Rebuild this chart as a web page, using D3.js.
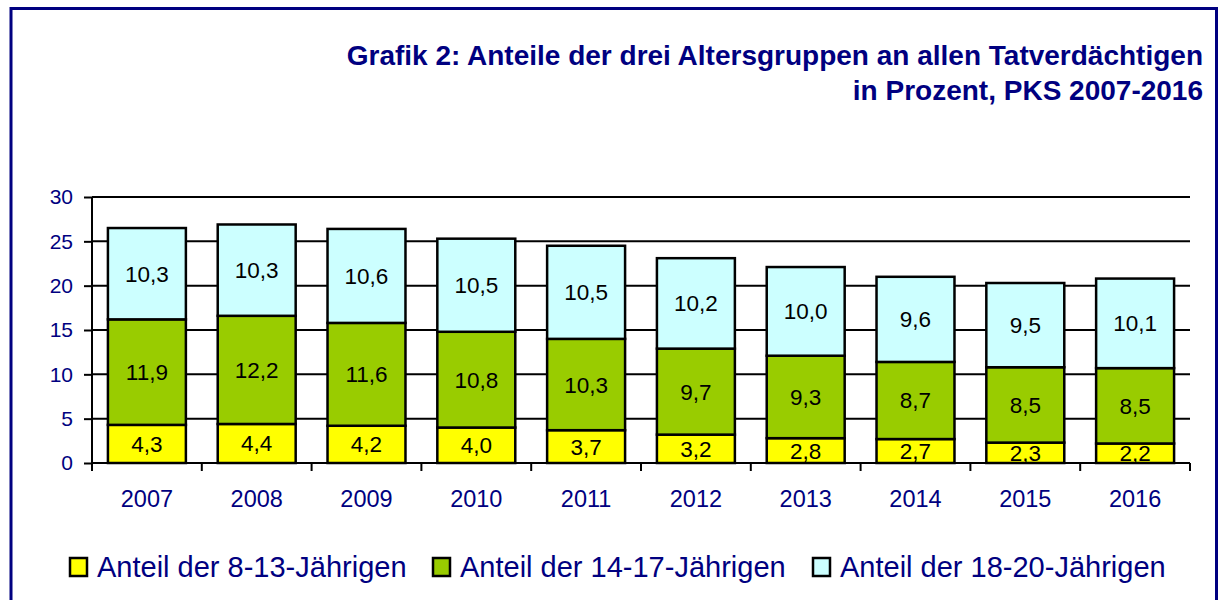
<!DOCTYPE html>
<html><head><meta charset="utf-8">
<script src="https://cdn.jsdelivr.net/npm/d3@7"></script>
<style>body{margin:0;background:#fff}svg{display:block;font-family:Arial,"Liberation Sans",sans-serif}</style>
</head><body><svg id="c" width="1219" height="600"></svg>
<script>
const years = ["2007","2008","2009","2010","2011","2012","2013","2014","2015","2016"];
const age8to13 = [4.3,4.4,4.2,4.0,3.7,3.2,2.8,2.7,2.3,2.2];
const age14to17 = [11.9,12.2,11.6,10.8,10.3,9.7,9.3,8.7,8.5,8.5];
const age18to20 = [10.3,10.3,10.6,10.5,10.5,10.2,10.0,9.6,9.5,10.1];
const seriesNames = ["Anteil der 8-13-Jährigen","Anteil der 14-17-Jährigen","Anteil der 18-20-Jährigen"];
const yTicks = [0,5,10,15,20,25,30];
const titleLines = ["Grafik 2: Anteile der drei Altersgruppen an allen Tatverdächtigen","in Prozent, PKS 2007-2016"];

const colors = ["#FFFF00","#99CC00","#CCFFFF"];
const navy = "#000080";
const svg = d3.select("#c");

// border (left, top, right)
svg.append("path").attr("d","M11,600 V8.5 H1216.5 V600").attr("fill","none").attr("stroke",navy).attr("stroke-width",3);

// title
svg.selectAll("text.title").data(titleLines).join("text")
  .attr("x",1203).attr("y",(d,i)=>65+i*35).attr("text-anchor","end")
  .attr("font-size",28).attr("font-weight","bold").attr("fill",navy).text(d=>d);

const pL=92,pR=1190,pT=197,pB=463;
const x = d3.scaleBand().domain(years).range([pL,pR]).paddingInner(0.29).paddingOuter(0.145);
const y = d3.scaleLinear().domain([0,30]).range([pB,pT]);

// gridlines
svg.append("g").selectAll("line").data(yTicks.slice(1)).join("line")
  .attr("x1",pL).attr("x2",pR).attr("y1",d=>y(d)).attr("y2",d=>y(d))
  .attr("stroke","#000").attr("stroke-width",2);

const data = years.map((yr,i)=>({year:yr,a:age8to13[i],b:age14to17[i],c:age18to20[i]}));
const stack = d3.stack().keys(["a","b","c"])(data);

stack.forEach((layer,li)=>{
  svg.append("g").selectAll("rect").data(layer).join("rect")
    .attr("x",d=>x(d.data.year)).attr("width",x.bandwidth())
    .attr("y",d=>y(d[1])).attr("height",d=>y(d[0])-y(d[1]))
    .attr("fill",colors[li]).attr("stroke","#000").attr("stroke-width",2.5);
});
stack.forEach((layer,li)=>{
  svg.append("g").selectAll("text").data(layer).join("text")
    .attr("x",d=>x(d.data.year)+x.bandwidth()/2)
    .attr("y",d=>y((d[0]+d[1])/2)+8)
    .attr("text-anchor","middle").attr("font-size",22.5).attr("fill","#000")
    .text(d=>d3.format(".1f")(d[1]-d[0]).replace(".",","));
});

// y axis
const ya = svg.append("g").attr("transform",`translate(${pL},0)`)
  .call(d3.axisLeft(y).tickValues(yTicks).tickSize(8).tickPadding(11));
ya.select(".domain").attr("stroke","#000").attr("stroke-width",2).attr("d",`M0,${pT}V${pB}`);
ya.selectAll(".tick line").attr("stroke","#000").attr("stroke-width",2);
ya.selectAll(".tick text").attr("fill",navy).attr("font-size",21).attr("font-family","Arial, Liberation Sans, sans-serif");

// x axis
const xa = svg.append("g").attr("transform",`translate(0,${pB})`)
  .call(d3.axisBottom(x).tickSize(0).tickPadding(27));
xa.select(".domain").attr("stroke","#000").attr("stroke-width",2).attr("d",`M${pL},0H${pR}`);
xa.selectAll(".tick text").attr("fill",navy).attr("font-size",23.5).attr("font-family","Arial, Liberation Sans, sans-serif");
svg.append("g").selectAll("line").data(d3.range(years.length+1)).join("line")
  .attr("x1",i=>pL+i*(pR-pL)/years.length).attr("x2",i=>pL+i*(pR-pL)/years.length)
  .attr("y1",pB).attr("y2",pB+8).attr("stroke","#000").attr("stroke-width",2);

// legend
const legX = [70,433,813];
const lg = svg.append("g");
seriesNames.forEach((n,i)=>{
  lg.append("rect").attr("x",legX[i]).attr("y",558).attr("width",17).attr("height",18)
    .attr("fill",colors[i]).attr("stroke","#000").attr("stroke-width",2.5);
  lg.append("text").attr("x",legX[i]+27).attr("y",577).attr("font-size",29).attr("fill",navy).text(n);
});
</script></body></html>
